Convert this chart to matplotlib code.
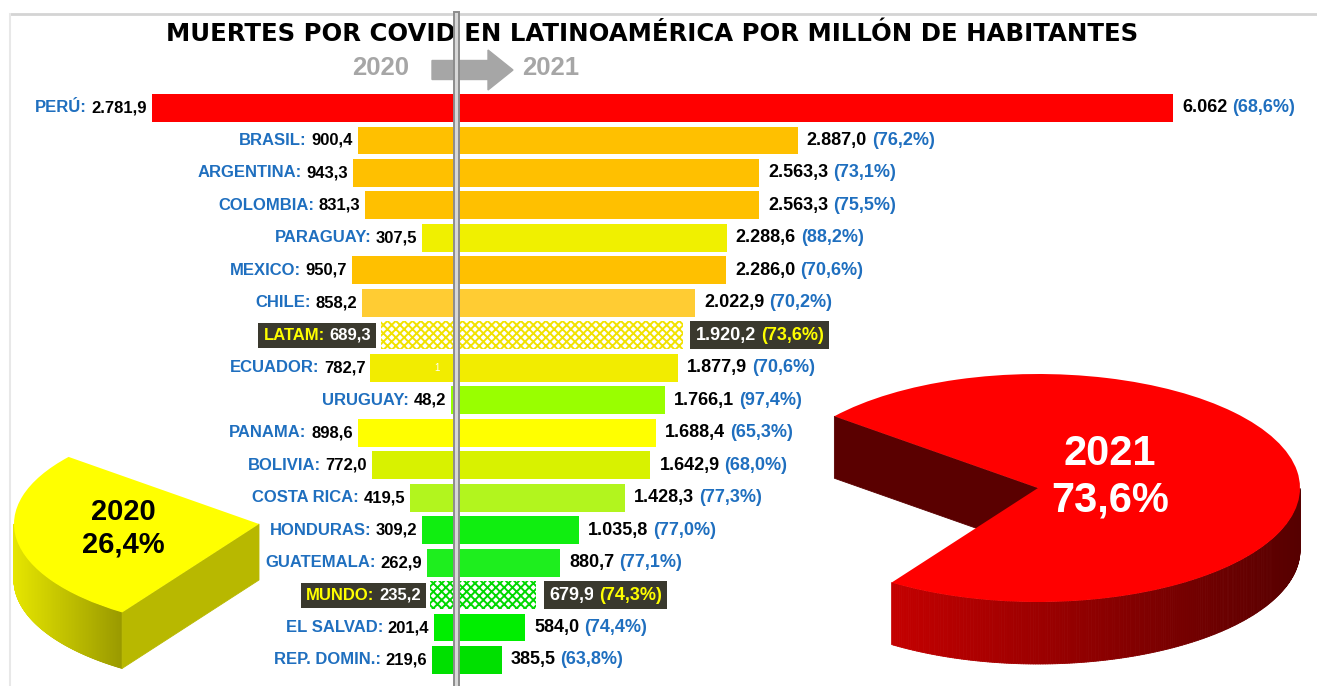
import numpy as np
import matplotlib
matplotlib.use("Agg")
import matplotlib.pyplot as plt
from matplotlib.patches import FancyArrow, Polygon
from matplotlib.lines import Line2D
from matplotlib.collections import PolyCollection
from matplotlib.colors import to_rgb

# data
countries = ["PERÚ", "BRASIL", "ARGENTINA", "COLOMBIA", "PARAGUAY", "MEXICO", "CHILE",
             "LATAM", "ECUADOR", "URUGUAY", "PANAMA", "BOLIVIA", "COSTA RICA",
             "HONDURAS", "GUATEMALA", "MUNDO", "EL SALVAD", "REP. DOMIN."]
deaths_2020 = [2781.9, 900.4, 943.3, 831.3, 307.5, 950.7, 858.2, 689.3, 782.7, 48.2,
               898.6, 772.0, 419.5, 309.2, 262.9, 235.2, 201.4, 219.6]
deaths_2021 = [6062.0, 2887.0, 2563.3, 2563.3, 2288.6, 2286.0, 2022.9, 1920.2, 1877.9,
               1766.1, 1688.4, 1642.9, 1428.3, 1035.8, 880.7, 679.9, 584.0, 385.5]
share_2021 = [68.6, 76.2, 73.1, 75.5, 88.2, 70.6, 70.2, 73.6, 70.6, 97.4, 65.3, 68.0,
              77.3, 77.0, 77.1, 74.3, 74.4, 63.8]
highlight = ["LATAM", "MUNDO"]
pie_years = ["2020", "2021"]
pie_shares = [26.4, 73.6]

bar_colors = ["#FF0000", "#FFC000", "#FFC000", "#FFC000", "#F0F000", "#FFC000", "#FFCC33",
              "#F2E200", "#F2EC00", "#99FF00", "#FFFF00", "#D8F200", "#B2F51E",
              "#10EE10", "#1EEE1E", "#00D800", "#00EE00", "#00E000"]

plt.rcParams['font.family'] = ['Liberation Sans', 'DejaVu Sans']
plt.rcParams['hatch.linewidth'] = 1.4

W, H = 1317, 686
fig = plt.figure(figsize=(W / 100, H / 100), dpi=100)
fig.patch.set_facecolor("white")

CX = 456            # centre line in px
ROW0, STEP = 108, 32.47
FS_L, FS_R = 12, 13
BLUE = "#1F6FBF"
BOX = "#3A392E"


def fmt(v, dec=1):
    s = f"{v:,.{dec}f}"
    return s.replace(",", "X").replace(".", ",").replace("X", ".")


# ---- pies (3D look) ----
ax_p = fig.add_axes([0, 0, 1, 1])
S = 262 / 114  # squash of the ellipse
pie_style = {
    "2020": dict(center=(259, 524), r=245, depth=56, top="#FFFF00",
                 side=("#E6E600", "#9A9A00"), cut="#B8B800", txt="black", fs=21,
                 label=(123, 528)),
    "2021": dict(center=(1038, 488), r=262, depth=62, top="#FF0000",
                 side=("#C40000", "#560000"), cut="#5A0000", txt="white", fs=30,
                 label=(1110, 477)),
}
for k, year in enumerate(pie_years):
    st = pie_style[year]
    cxd, cyd = st["center"][0], (H - st["center"][1]) * S
    r = st["r"]
    d = st["depth"] * S
    cols = [st["top"] if j == k else "none" for j in range(len(pie_shares))]
    wedges, _ = ax_p.pie(pie_shares, colors=cols, startangle=141, counterclock=True,
                         center=(cxd, cyd), radius=r, frame=True,
                         wedgeprops=dict(linewidth=0, zorder=3))
    w = wedges[k]
    t1, t2 = w.theta1, w.theta2
    # visible outer side
    th = np.radians(np.linspace(t1, t2, 500))
    xs = cxd + r * np.cos(th)
    yv = cyd + r * np.sin(th)
    polys, idx = [], []
    for j in range(len(th) - 1):
        if np.sin((th[j] + th[j + 1]) / 2) > 0:
            continue
        polys.append([(xs[j], yv[j]), (xs[j + 1], yv[j + 1]),
                      (xs[j + 1], yv[j + 1] - d), (xs[j], yv[j] - d)])
        idx.append(xs[j])
    idx = np.array(idx)
    f = (idx - idx.min()) / (idx.max() - idx.min())
    c0, c1 = np.array(to_rgb(st["side"][0])), np.array(to_rgb(st["side"][1]))
    fc = [tuple(c0 + (c1 - c0) * v) for v in f]
    ax_p.add_collection(PolyCollection(polys, facecolors=fc, edgecolors=fc,
                                       linewidths=0.6, zorder=1))
    # visible cut face
    for ang, vis in ((t1, np.cos(np.radians(t1)) > 0), (t2, np.cos(np.radians(t2)) < 0)):
        if vis:
            ex = cxd + r * np.cos(np.radians(ang))
            ey = cyd + r * np.sin(np.radians(ang))
            ax_p.add_patch(Polygon([(cxd, cyd), (ex, ey), (ex, ey - d), (cxd, cyd - d)],
                                   fc=st["cut"], ec=st["cut"], lw=0.6, zorder=2))
    lx, ly = st["label"]
    ax_p.text(lx, (H - ly) * S, f"{year}\n{fmt(pie_shares[k])}%", ha="center",
              va="center", color=st["txt"], fontsize=st["fs"], fontweight="bold",
              linespacing=1.2, zorder=4)
ax_p.set_aspect("auto")
ax_p.set_xlim(0, W)
ax_p.set_ylim(0, H * S)
ax_p.axis("off")

# ---- bars ----
ys = np.arange(len(countries))
ax_l = fig.add_axes([0, 0, CX / W, 1])
ax_r = fig.add_axes([CX / W, 0, 1 - CX / W, 1])
ax_l.set_xlim(CX / 0.1093, 0)
ax_r.set_xlim(0, (W - CX) / 0.1183)
for ax in (ax_l, ax_r):
    ax.set_ylim((H - ROW0) / STEP, -ROW0 / STEP)
    ax.axis("off")

bars_l = ax_l.barh(ys, deaths_2020, height=0.86, color=bar_colors, linewidth=0)
bars_r = ax_r.barh(ys, deaths_2021, height=0.86, color=bar_colors, linewidth=0)
for i, c in enumerate(countries):
    if c in highlight:
        for b in (bars_l[i], bars_r[i]):
            b.set_facecolor("white")
            b.set_edgecolor(bar_colors[i])
            b.set_hatch("xxxx")

for i, c in enumerate(countries):
    boxed = c in highlight
    box = dict(boxstyle="square,pad=0.3", fc=BOX, ec="none") if boxed else None
    vcol = "white" if boxed else "black"
    acc = "#FFFF00" if boxed else BLUE
    kl = dict(fontsize=FS_L, fontweight="bold", textcoords="offset points")
    kr = dict(fontsize=FS_R, fontweight="bold", textcoords="offset points")
    v = ax_l.annotate(fmt(deaths_2020[i]), (deaths_2020[i], i),
                      xytext=(-7 if boxed else -3.5, 0), ha="right", va="center",
                      color=vcol, bbox=box, **kl)
    ax_l.annotate(c + ":", (0, 0), xycoords=v, xytext=(-3.3, 0), ha="right",
                  va="bottom", color=acc, bbox=box, **kl)
    v2 = ax_r.annotate(fmt(deaths_2021[i], 0 if i == 0 else 1), (deaths_2021[i], i),
                       xytext=(9 if boxed else 6.5, 0), ha="left", va="center",
                       color=vcol, bbox=box, **kr)
    ax_r.annotate(f"({fmt(share_2021[i])}%)", (1, 0), xycoords=v2, xytext=(3.5, 0),
                  ha="left", va="bottom", color=acc, bbox=box, **kr)

ax_l.text((CX - 437) / 0.1093, countries.index("ECUADOR"), "1", color="white",
          fontsize=7, ha="center", va="center")

# ---- titles, arrow, frame ----
fig.text(652 / W, 1 - 34 / H, "MUERTES POR COVID EN LATINOAMÉRICA POR MILLÓN DE HABITANTES",
         ha="center", va="center", fontsize=17.6, fontweight="bold", color="black",
         family="DejaVu Sans")
fig.text(381 / W, 1 - 68 / H, "2020", ha="center", va="center", fontsize=18.5,
         fontweight="bold", color="#A6A6A6")
fig.text(551 / W, 1 - 68 / H, "2021", ha="center", va="center", fontsize=18.5,
         fontweight="bold", color="#A6A6A6")
fig.add_artist(FancyArrow(4.32, (H - 70) / 100, 0.81, 0, width=0.19, head_width=0.40,
                          head_length=0.25, length_includes_head=True, color="#A6A6A6",
                          transform=fig.dpi_scale_trans, zorder=4))

fig.add_artist(Line2D([10 / W, 1], [1 - 14 / H] * 2, transform=fig.transFigure,
                      color="#D4D4D4", lw=2))
fig.add_artist(Line2D([10 / W] * 2, [0, 1 - 14 / H], transform=fig.transFigure,
                      color="#E8E8E8", lw=1.5))
fig.add_artist(Line2D([CX / W] * 2, [0, 1 - 14 / H], transform=fig.transFigure,
                      color="#8C8C8C", lw=5, zorder=6))
fig.add_artist(Line2D([CX / W] * 2, [0, 1 - 14 / H], transform=fig.transFigure,
                      color="#D8D8D8", lw=2.2, zorder=7))

fig.savefig("out.png", dpi=100)
